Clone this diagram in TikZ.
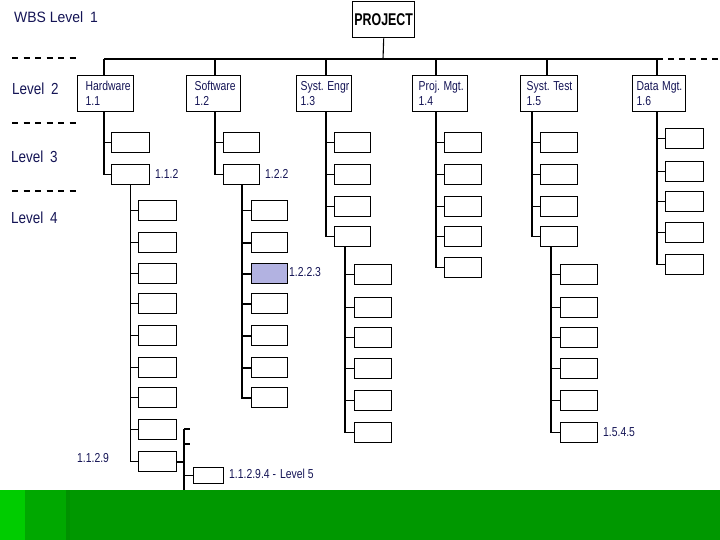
\documentclass[tikz,border=0pt]{standalone}
\usepackage{fontspec}
\setmainfont{Liberation Sans}
\definecolor{navy}{RGB}{20,20,85}
\definecolor{hilite}{RGB}{178,178,225}
\definecolor{gA}{RGB}{0,204,0}
\definecolor{gB}{RGB}{0,168,0}
\definecolor{gC}{RGB}{0,145,0}
\definecolor{gD}{RGB}{0,152,0}
\newcommand{\nar}[1]{\scalebox{0.8}[1]{#1}}
\frenchspacing
\begin{document}
\begin{tikzpicture}[x=1pt,y=-1pt,
  lvl2/.style 2 args={draw, line width=1.4pt, anchor=north west, inner xsep=#2, inner ysep=0pt,
    minimum height=36pt, align=left, text width=#1, text=navy,
    font=\fontsize{13}{15}\selectfont},
  proj/.style={draw, line width=1.4pt, anchor=north west, inner sep=0pt,
    minimum width=62pt, minimum height=36pt, font=\fontsize{17}{17}\selectfont\bfseries},
  wbox/.style={draw, line width=1.4pt, anchor=north west, inner sep=0pt,
    minimum width=37pt, minimum height=20pt},
  conn/.style={line width=1.1pt},
  lab/.style={anchor=west, inner sep=0pt, text=navy, font=\fontsize{13}{13}\selectfont},
  biglab/.style={anchor=west, inner sep=0pt, text=navy, font=\fontsize{16}{16}\selectfont},
  lvldash/.style={line width=1.7pt, dash pattern=on 6pt off 5.5pt}
]
\useasboundingbox (0,0) rectangle (720,540);

% --- level labels on the left ---
\node[biglab, font=\fontsize{15}{15}\selectfont] (wbs) at (14,17) {\scalebox{0.93}[1]{WBS Level\hspace{0.5em}1}};
\node[biglab] (lv2) at (12,89) {\scalebox{0.84}[1]{Level\hspace{0.5em}2}};
\node[biglab] (lv3) at (11,157) {\scalebox{0.84}[1]{Level\hspace{0.5em}3}};
\node[biglab] (lv4) at (11,218) {\scalebox{0.84}[1]{Level\hspace{0.5em}4}};
\draw[lvldash] (12,58) -- (78,58);
\draw[lvldash] (12,123) -- (78,123);
\draw[lvldash] (12,191) -- (78,191);

% --- project and bus ---
\node[proj] (pr) at (352,1) {\scalebox{0.73}[1]{PROJECT}};
\coordinate (bus) at (383,59);
\coordinate (busL) at (104,59);
\coordinate (busR) at (657,59);
\coordinate (busE) at (722,59);
\draw[conn] (pr.south) -- (bus);
\draw[conn] (busL) -- (busR);
\draw[conn, dash pattern=on 6pt off 5pt] (busR) -- (busE);

% --- level 2 ---
\node[lvl2={40pt}{8pt}] (hw) at (77,75)  {\nar{Hardware}\\\nar{1.1}};
\node[lvl2={38pt}{8pt}] (sw) at (186,75) {\nar{Software}\\\nar{1.2}};
\node[lvl2={47pt}{4pt}] (se) at (296,75) {\nar{Syst. Engr}\\\nar{1.3}};
\node[lvl2={43pt}{6pt}] (pm) at (412,75) {\nar{Proj. Mgt.}\\\nar{1.4}};
\node[lvl2={45pt}{6pt}] (st) at (520,75) {\nar{Syst. Test}\\\nar{1.5}};
\node[lvl2={45pt}{4pt}] (dm) at (632,75) {\nar{Data Mgt.}\\\nar{1.6}};
\draw[conn] ([xshift=27pt]hw.north west) -- ++(0,-16);
\draw[conn] ([xshift=29pt]sw.north west) -- ++(0,-16);
\draw[conn] ([xshift=30pt]se.north west) -- ++(0,-16);
\draw[conn] ([xshift=24pt]pm.north west) -- ++(0,-16);
\draw[conn] ([xshift=27pt]st.north west) -- ++(0,-16);
\draw[conn] ([xshift=25pt]dm.north west) -- ++(0,-16);

% --- level 3 ---
\node[wbox, minimum width=38pt] (h1) at (111,132) {};
\node[wbox, minimum width=38pt] (h2) at (111,164) {};
\node[wbox, minimum width=36pt] (s1) at (223,132) {};
\node[wbox, minimum width=36pt] (s2) at (223,164) {};
\foreach \n/\y in {1/132,2/164,3/196,4/226}
  \node[wbox, minimum width=36pt] (e\n) at (334,\y) {};
\foreach \n/\y in {1/132,2/164,3/196,4/226,5/257}
  \node[wbox] (p\n) at (444,\y) {};
\foreach \n/\y in {1/132,2/164,3/196,4/226}
  \node[wbox] (t\n) at (540,\y) {};
\foreach \n/\y in {1/128,2/161,3/191,4/222,5/254}
  \node[wbox, minimum width=38pt] (d\n) at (665,\y) {};

\foreach \n in {1,2} \draw[conn] ([xshift=27pt]hw.south west) |- (h\n.west);
\foreach \n in {1,2} \draw[conn] ([xshift=29pt]sw.south west) |- (s\n.west);
\foreach \n in {1,...,4} \draw[conn] ([xshift=30pt]se.south west) |- (e\n.west);
\foreach \n in {1,...,5} \draw[conn] ([xshift=24pt]pm.south west) |- (p\n.west);
\foreach \n in {1,...,4} \draw[conn] ([xshift=12pt]st.south west) |- (t\n.west);
\foreach \n in {1,...,5} \draw[conn] ([xshift=25pt]dm.south west) |- (d\n.west);

% --- level 4 ---
\foreach \n/\y in {1/200,2/232,3/263,4/293,5/325,6/357,7/387,8/419,9/451}
  \node[wbox, minimum width=38pt] (ha\n) at (138,\y) {};
\foreach \n/\y in {1/200,2/232,4/293,5/325,6/357,7/387}
  \node[wbox, minimum width=36pt] (sa\n) at (251,\y) {};
\node[wbox, minimum width=36pt, fill=hilite] (sa3) at (251,263) {};
\foreach \n/\y in {1/264,2/297,3/327,4/358,5/390,6/422}
  \node[wbox] (ea\n) at (354,\y) {};
\foreach \n/\y in {1/264,2/297,3/327,4/358,5/390,6/422}
  \node[wbox] (ta\n) at (560,\y) {};

\foreach \n in {1,...,9} \draw[conn] (h2.south) |- (ha\n.west);
\foreach \n in {1,...,7} \draw[conn, line width=1.6pt] (s2.south) |- (sa\n.west);
\foreach \n in {1,...,6} \draw[conn] ([xshift=11pt]e4.south west) |- (ea\n.west);
\foreach \n in {1,...,6} \draw[conn] ([xshift=11pt]t4.south west) |- (ta\n.west);

% --- level 5 ---
\coordinate (ltop) at (184,429);
\coordinate (lbot) at (184,490);
\coordinate (k1) at (190,429);
\coordinate (k2) at (190,444);
\coordinate (k3) at (184,444);
\node[wbox, minimum width=30pt, minimum height=16pt, line width=1.2pt] (l5) at (193,467) {};
\draw[conn, line width=1.6pt] (ltop) -- (lbot);
\draw[conn, line width=1.6pt] (ha9.east) -- (ha9.east -| ltop);
\draw[conn, line width=1.6pt] (ltop) -- (k1);
\draw[conn, line width=1.6pt] (k3) -- (k2);
\draw[conn, line width=1.6pt] (l5.west -| ltop) -- (l5.west);

% --- labels ---
\node[lab] (lb112) at (155,174) {\nar{1.1.2}};
\node[lab] (lb122) at (265,174) {\nar{1.2.2}};
\node[lab] (lb1223) at (289,272) {\nar{1.2.2.3}};
\node[lab] (lb1129) at (77,458) {\nar{1.1.2.9}};
\node[lab] (lb11294) at (229,474) {\nar{1.1.2.9.4 -\hspace{0.4em}Level 5}};
\node[lab] (lb1545) at (603,432) {\nar{1.5.4.5}};

% --- green band ---
\fill[gD] (0,490) rectangle (720,540);
\fill[gA] (0,490) rectangle (25,540);
\fill[gB] (25,490) rectangle (66,540);
\fill[gC] (66,490) rectangle (70,540);
\end{tikzpicture}
\end{document}
